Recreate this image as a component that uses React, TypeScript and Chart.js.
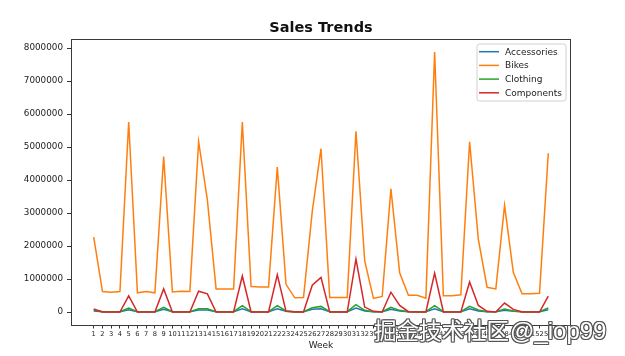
import React, { useEffect, useRef } from "react";
import { Chart, registerables } from "chart.js";

Chart.register(...registerables);

const weeks = [
  1, 2, 3, 4, 5, 6, 7, 8, 9, 10, 11, 12, 13, 14, 15, 16, 17, 18, 19, 20, 21, 22, 23, 24, 25, 26,
  27, 28, 29, 30, 31, 32, 33, 34, 35, 36, 37, 38, 39, 40, 41, 42, 43, 44, 45, 46, 47, 48, 49, 50,
  51, 52, 53,
];

const accessories = [
  30000, 5000, 5000, 5000, 70000, 5000, 5000, 5000, 80000, 5000, 5000, 5000, 60000, 60000, 5000,
  5000, 5000, 100000, 5000, 5000, 5000, 100000, 20000, 5000, 5000, 80000, 100000, 5000, 5000, 5000,
  120000, 30000, 5000, 5000, 80000, 30000, 5000, 5000, 5000, 100000, 5000, 5000, 5000, 100000,
  30000, 5000, 5000, 50000, 20000, 5000, 5000, 5000, 70000,
];

const bikes = [
  2270000, 620000, 600000, 620000, 5760000, 580000, 620000, 580000, 4710000, 610000, 630000,
  620000, 5160000, 3400000, 700000, 700000, 700000, 5760000, 770000, 760000, 760000, 4390000,
  840000, 430000, 440000, 3050000, 4950000, 440000, 440000, 440000, 5480000, 1550000, 410000,
  470000, 3730000, 1190000, 510000, 510000, 420000, 7880000, 490000, 490000, 520000, 5160000,
  2200000, 750000, 700000, 3230000, 1200000, 550000, 550000, 570000, 4810000,
];

const clothing = [
  50000, 10000, 10000, 10000, 120000, 10000, 10000, 10000, 140000, 10000, 10000, 10000, 100000,
  100000, 10000, 10000, 10000, 190000, 10000, 10000, 10000, 190000, 30000, 10000, 10000, 130000,
  170000, 10000, 10000, 10000, 220000, 50000, 10000, 10000, 140000, 50000, 10000, 10000, 10000,
  190000, 10000, 10000, 10000, 170000, 60000, 10000, 10000, 90000, 30000, 10000, 10000, 10000,
  120000,
];

const components = [
  90000, 0, 0, 0, 490000, 0, 0, 0, 700000, 0, 0, 0, 630000, 550000, 0, 0, 0, 1090000, 0, 0, 0,
  1130000, 20000, 0, 0, 810000, 1050000, 0, 0, 0, 1600000, 150000, 20000, 0, 600000, 200000,
  10000, 0, 0, 1180000, 0, 0, 0, 910000, 200000, 20000, 0, 270000, 80000, 0, 0, 0, 480000,
];

const yTicks = [0, 1000000, 2000000, 3000000, 4000000, 5000000, 6000000, 7000000, 8000000];

const seriesNames = ["Accessories", "Bikes", "Clothing", "Components"];
const seriesColors = ["#1f77b4", "#ff7f0e", "#2ca02c", "#d62728"];

const FONT = "'DejaVu Sans', sans-serif";

export default function App() {
  const canvasRef = useRef<HTMLCanvasElement | null>(null);

  useEffect(() => {
    const canvas = canvasRef.current;
    if (!canvas) return;
    const all = [accessories, bikes, clothing, components];
    const flat = all.flat();
    const dMax = Math.max(...flat);
    const dMin = Math.min(...flat);
    const span = dMax - dMin;
    const xSpan = weeks[weeks.length - 1] - weeks[0];

    const framePlugin = {
      id: "frameAndLegend",
      afterDatasetsDraw(chart: any) {
        const { ctx, chartArea } = chart;
        const { left, right, top, bottom } = chartArea;
        ctx.save();
        // frame
        ctx.strokeStyle = "#3a3a3a";
        ctx.lineWidth = 1;
        ctx.strokeRect(left + 0.5, top + 0.5, right - left - 1, bottom - top);
        // title
        ctx.fillStyle = "#111";
        ctx.font = `bold 14.5px ${FONT}`;
        ctx.textAlign = "center";
        ctx.textBaseline = "middle";
        ctx.fillText("Sales Trends", (left + right) / 2, 28);
        // legend
        const bw = 89;
        const bh = 57;
        const bx = right - 5 - bw;
        const by = top + 5;
        ctx.beginPath();
        const r = 2.5;
        ctx.moveTo(bx + r, by);
        ctx.lineTo(bx + bw - r, by);
        ctx.quadraticCurveTo(bx + bw, by, bx + bw, by + r);
        ctx.lineTo(bx + bw, by + bh - r);
        ctx.quadraticCurveTo(bx + bw, by + bh, bx + bw - r, by + bh);
        ctx.lineTo(bx + r, by + bh);
        ctx.quadraticCurveTo(bx, by + bh, bx, by + bh - r);
        ctx.lineTo(bx, by + r);
        ctx.quadraticCurveTo(bx, by, bx + r, by);
        ctx.closePath();
        ctx.fillStyle = "rgba(255,255,255,0.8)";
        ctx.fill();
        ctx.strokeStyle = "#d0d0d0";
        ctx.lineWidth = 1;
        ctx.stroke();
        ctx.font = `9px ${FONT}`;
        ctx.textAlign = "left";
        ctx.textBaseline = "middle";
        seriesNames.forEach((name, i) => {
          const cy = by + 7.7 + i * 13.7;
          ctx.strokeStyle = seriesColors[i];
          ctx.lineWidth = 1.5;
          ctx.beginPath();
          ctx.moveTo(bx + 2, cy);
          ctx.lineTo(bx + 22, cy);
          ctx.stroke();
          ctx.fillStyle = "#222";
          ctx.fillText(name, bx + 28, cy + 0.5);
        });
        ctx.restore();
      },
    };

    const order = [3, 2, 1, 0];
    const chart = new Chart(canvas, {
      type: "line",
      data: {
        datasets: all.map((arr, i) => ({
          label: seriesNames[i],
          data: weeks.map((w, j) => ({ x: w, y: arr[j] })),
          borderColor: seriesColors[i],
          backgroundColor: seriesColors[i],
          borderWidth: 1.5,
          pointRadius: 0,
          tension: 0,
          order: order[i],
        })),
      },
      options: {
        responsive: false,
        animation: false,
        devicePixelRatio: 1,
        layout: { padding: { top: 39, right: 54, bottom: 0, left: 0 } },
        plugins: {
          legend: { display: false },
          title: { display: false },
          tooltip: { enabled: false },
        },
        scales: {
          x: {
            type: "linear",
            min: weeks[0] - 0.05 * xSpan,
            max: weeks[weeks.length - 1] + 0.05 * xSpan,
            afterBuildTicks: (scale: any) => {
              scale.ticks = weeks.map((w) => ({ value: w }));
            },
            afterFit: (scale: any) => {
              scale.height = 31;
            },
            ticks: {
              autoSkip: false,
              maxRotation: 0,
              minRotation: 0,
              padding: 2,
              color: "#222",
              font: { family: FONT, size: 6.7 },
              callback: (v: any) => String(v),
            },
            grid: {
              display: true,
              drawOnChartArea: false,
              drawTicks: true,
              tickLength: 3.5,
              tickColor: "#333",
            },
            border: { display: true, color: "#3a3a3a" },
            title: {
              display: true,
              text: "Week",
              color: "#222",
              font: { family: FONT, size: 9 },
              padding: { top: 0, bottom: 5 },
            },
          },
          y: {
            type: "linear",
            min: dMin - 0.05 * span,
            max: dMax + 0.05 * span,
            afterBuildTicks: (scale: any) => {
              scale.ticks = yTicks.map((v) => ({ value: v }));
            },
            afterFit: (scale: any) => {
              scale.width = 71;
            },
            ticks: {
              padding: 4,
              color: "#222",
              font: { family: FONT, size: 8.8 },
              callback: (v: any) => String(v),
            },
            grid: {
              display: true,
              drawOnChartArea: false,
              drawTicks: true,
              tickLength: 4,
              tickColor: "#333",
            },
            border: { display: true, color: "#3a3a3a" },
          },
        },
      },
      plugins: [framePlugin],
    } as any);
    return () => chart.destroy();
  }, []);

  const shadow =
    "1px 0 0 #555, -1px 0 0 #555, 0 1px 0 #555, 0 -1px 0 #555, 1px 1px 0 #555, -1px -1px 0 #555, 1px -1px 0 #555, -1px 1px 0 #555";

  return (
    <div
      style={{
        position: "absolute",
        left: 0,
        top: 0,
        width: 625,
        height: 356,
        background: "#fff",
        overflow: "hidden",
      }}
    >
      <canvas ref={canvasRef} width={625} height={356} style={{ width: 625, height: 356 }} />
      <div
        style={{
          position: "absolute",
          left: 374,
          top: 315,
          lineHeight: "28px",
          color: "#fff",
          whiteSpace: "nowrap",
          textShadow: shadow,
        }}
      >
        <span style={{ fontFamily: "'Noto Sans CJK SC', sans-serif", fontSize: 22.5 }}>
          掘金技术社区
        </span>
        <span style={{ fontFamily: "'Liberation Sans', sans-serif", fontSize: 24, marginLeft: 1 }}>
          @_iop99
        </span>
      </div>
    </div>
  );
}
